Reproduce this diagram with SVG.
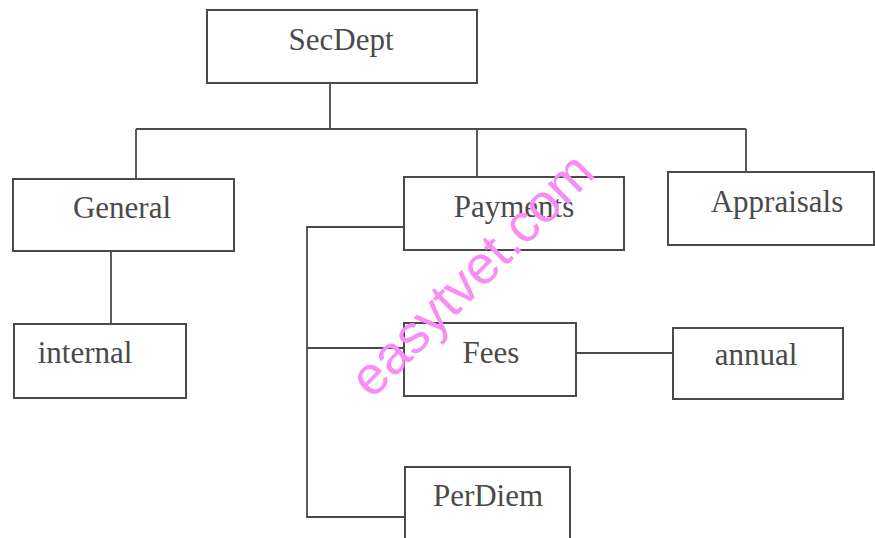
<svg xmlns="http://www.w3.org/2000/svg" width="875" height="538" viewBox="0 0 875 538">
<style>
.box{fill:#fff;stroke:#4a4a4a;stroke-width:2}
.lbl{font-family:"Liberation Serif","Times New Roman",serif;font-size:31px;fill:#4a4a4a;text-anchor:middle}
.conn{fill:none;stroke:#4a4a4a;stroke-width:1.8}
.wm{font-family:"Liberation Sans",Arial,sans-serif;font-size:54px;fill:#f98cf5}
</style>
<rect width="875" height="538" fill="#fff"/>
<g id="connectors">
<path class="conn" d="M330,83 V129 M136,129 H746 M136,129 V179 M477,129 V177 M746,129 V172"/>
<path class="conn" d="M111,251 V324"/>
<path class="conn" d="M404,227 H307 V517 H405 M307,348 H404"/>
<path class="conn" d="M576,353 H673"/>
</g>
<g id="SecDept"><rect class="box" x="207" y="10" width="270" height="73"/><text class="lbl" x="341" y="50">SecDept</text></g>
<g id="General"><rect class="box" x="13" y="179" width="221" height="72"/><text class="lbl" x="122" y="218">General</text></g>
<g id="Payments"><rect class="box" x="404" y="177" width="220" height="73"/><text class="lbl" x="514" y="217">Payments</text></g>
<g id="Appraisals"><rect class="box" x="668" y="172" width="206" height="73"/><text class="lbl" x="777" y="212">Appraisals</text></g>
<g id="internal"><rect class="box" x="14" y="324" width="172" height="74"/><text class="lbl" x="85" y="363">internal</text></g>
<g id="Fees"><rect class="box" x="404" y="323" width="172" height="73"/><text class="lbl" x="491" y="363">Fees</text></g>
<g id="annual"><rect class="box" x="673" y="328" width="170" height="71"/><text class="lbl" x="756" y="365">annual</text></g>
<g id="PerDiem"><rect class="box" x="405" y="467" width="165" height="80"/><text class="lbl" x="488" y="506">PerDiem</text></g>
<text class="wm" transform="translate(372,400) rotate(-45)">easytvet.com</text>
</svg>
